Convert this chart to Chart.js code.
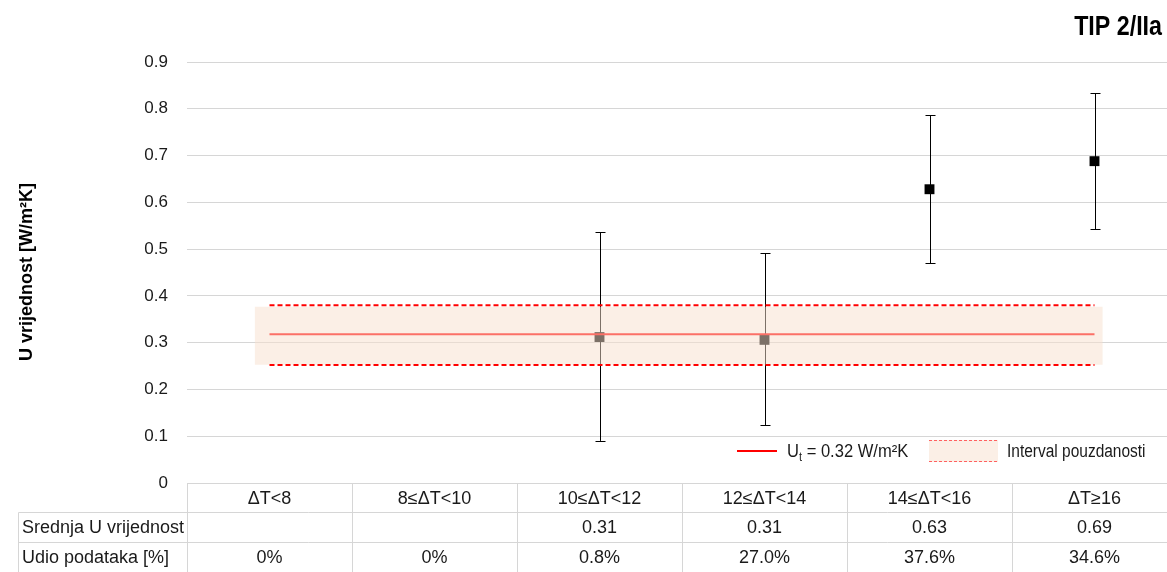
<!DOCTYPE html>
<html><head><meta charset="utf-8">
<script src="https://cdn.jsdelivr.net/npm/chart.js@4/dist/chart.umd.min.js"></script>
<style>
html,body{margin:0;padding:0;overflow:hidden;background:#fff;width:1167px;height:572px}
#wrap{width:1190px;height:572px;position:relative}
</style></head><body>
<div id="wrap"><canvas id="c" width="1190" height="572"></canvas></div>
<script>
// ---- data ----
const categories = ['ΔT<8', '8≤ΔT<10', '10≤ΔT<12', '12≤ΔT<14', '14≤ΔT<16', 'ΔT≥16'];
const meanU  = [null, null, 0.312, 0.306, 0.628, 0.688];
const lowerU = [null, null, 0.090, 0.124, 0.470, 0.543];
const upperU = [null, null, 0.536, 0.491, 0.786, 0.833];
const meanLabels  = ['', '', '0.31', '0.31', '0.63', '0.69'];
const shareLabels = ['0%', '0%', '0.8%', '27.0%', '37.6%', '34.6%'];
const rowLabels = ['Srednja U vrijednost', 'Udio podataka [%]'];
const yTickValues = [0, 0.1, 0.2, 0.3, 0.4, 0.5, 0.6, 0.7, 0.8, 0.9];
const targetU = 0.318;
const ciHigh = 0.380, ciLow = 0.252;
const bandHigh = 0.377, bandLow = 0.253;
const titleText = 'TIP 2/IIa';
const yTitle = 'U vrijednost [W/m²K]';
const legendTarget = ['U', 't', ' = 0.32 W/m²K'];
const legendBand = 'Interval pouzdanosti';

// ---- helpers ----
const N = categories.length;
const xc = i => i + 0.5;
const lineFirst = xc(0), lineLast = xc(N - 1);
const bandFirst = 0.41, bandLast = 5.55;
const FONT = '"Liberation Sans", Arial, sans-serif';
const GRID = '#d6d6d6';
const TXT = '#1a1a1a';

const markerData = [];
meanU.forEach((v, i) => { if (v !== null) markerData.push({x: xc(i), y: v}); });
const hline = v => [{x: lineFirst, y: v}, {x: lineLast, y: v}];

const errorBars = {
  id: 'errorBars',
  beforeDatasetsDraw(chart) {
    const {ctx, scales: {x, y}} = chart;
    ctx.save();
    ctx.strokeStyle = '#000';
    ctx.lineWidth = 1;
    meanU.forEach((v, i) => {
      if (v === null) return;
      const px = Math.round(x.getPixelForValue(xc(i))) + 0.5;
      const yl = y.getPixelForValue(lowerU[i]);
      const yu = y.getPixelForValue(upperU[i]);
      ctx.beginPath();
      ctx.moveTo(px, yu); ctx.lineTo(px, yl);
      ctx.moveTo(px - 5, Math.round(yu) + 0.5); ctx.lineTo(px + 5, Math.round(yu) + 0.5);
      ctx.moveTo(px - 5, Math.round(yl) + 0.5); ctx.lineTo(px + 5, Math.round(yl) + 0.5);
      ctx.stroke();
    });
    ctx.restore();
  }
};

function condensedText(ctx, text, x, y, sx) {
  ctx.save();
  ctx.translate(x, y);
  ctx.scale(sx, 1);
  ctx.fillText(text, 0, 0);
  ctx.restore();
  return ctx.measureText(text).width * sx;
}

const decorations = {
  id: 'decorations',
  afterDraw(chart) {
    const {ctx, scales: {x, y}} = chart;
    ctx.save();
    // ---- data table ----
    const top = Math.round(y.getPixelForValue(0)) + 0.5;
    const rows = [top, top + 29, top + 59, top + 89];
    const tableLeft = 18.5;
    const colX = [];
    for (let i = 0; i <= N; i++) colX.push(Math.round(x.getPixelForValue(i)) + 0.5);
    ctx.strokeStyle = GRID;
    ctx.lineWidth = 1;
    ctx.beginPath();
    ctx.moveTo(colX[0], rows[0]); ctx.lineTo(colX[N], rows[0]);
    for (let r = 1; r < rows.length; r++) { ctx.moveTo(tableLeft, rows[r]); ctx.lineTo(colX[N], rows[r]); }
    ctx.moveTo(tableLeft, rows[1]); ctx.lineTo(tableLeft, rows[3]);
    colX.forEach(cx => { ctx.moveTo(cx, rows[0]); ctx.lineTo(cx, rows[3]); });
    ctx.stroke();

    ctx.fillStyle = TXT;
    ctx.font = '18px ' + FONT;
    ctx.textBaseline = 'middle';
    ctx.textAlign = 'center';
    categories.forEach((c, i) => {
      const cx = x.getPixelForValue(xc(i));
      ctx.fillText(c, cx, (rows[0] + rows[1]) / 2 + 1);
      ctx.fillText(meanLabels[i], cx, (rows[1] + rows[2]) / 2 + 1);
      ctx.fillText(shareLabels[i], cx, (rows[2] + rows[3]) / 2 + 1);
    });
    ctx.textAlign = 'left';
    ctx.fillText(rowLabels[0], 22, (rows[1] + rows[2]) / 2 + 1);
    ctx.fillText(rowLabels[1], 22, (rows[2] + rows[3]) / 2 + 1);

    // ---- title ----
    ctx.font = 'bold 28px ' + FONT;
    ctx.textAlign = 'right';
    ctx.textBaseline = 'alphabetic';
    ctx.fillStyle = '#000';
    condensedText(ctx, titleText, 1162, 35, 0.83);

    // ---- y axis title ----
    ctx.save();
    ctx.translate(27, 272);
    ctx.rotate(-Math.PI / 2);
    ctx.font = 'bold 18px ' + FONT;
    ctx.textAlign = 'center';
    ctx.textBaseline = 'middle';
    ctx.fillText(yTitle, 0, 0);
    ctx.restore();

    // ---- legend ----
    const ly = 450;
    ctx.strokeStyle = '#ff0000';
    ctx.lineWidth = 2;
    ctx.beginPath(); ctx.moveTo(737, ly + 1); ctx.lineTo(777, ly + 1); ctx.stroke();
    ctx.fillStyle = TXT;
    ctx.textAlign = 'left';
    ctx.textBaseline = 'alphabetic';
    let lx = 787;
    ctx.font = '18px ' + FONT;
    lx += condensedText(ctx, legendTarget[0], lx, ly + 7, 0.92);
    ctx.font = '12px ' + FONT;
    lx += condensedText(ctx, legendTarget[1], lx, ly + 11, 0.92);
    ctx.font = '18px ' + FONT;
    condensedText(ctx, legendTarget[2], lx, ly + 7, 0.92);
    // band swatch
    ctx.fillStyle = 'rgba(248,224,206,0.5)';
    ctx.fillRect(929, 440, 69, 22);
    ctx.strokeStyle = '#ff6060';
    ctx.lineWidth = 1;
    ctx.setLineDash([3, 2]);
    ctx.beginPath();
    ctx.moveTo(929, 440.5); ctx.lineTo(998, 440.5);
    ctx.moveTo(929, 461.5); ctx.lineTo(998, 461.5);
    ctx.stroke();
    ctx.setLineDash([]);
    ctx.fillStyle = TXT;
    ctx.font = '18px ' + FONT;
    condensedText(ctx, legendBand, 1007, ly + 7, 0.86);
    ctx.restore();
  }
};

new Chart(document.getElementById('c'), {
  type: 'scatter',
  data: {
    datasets: [
      { label: 'mean', data: markerData, order: 5, pointStyle: 'rect', pointRadius: 7, pointHoverRadius: 7,
        backgroundColor: '#000', borderColor: '#000', borderWidth: 0, showLine: false },
      { label: 'target', data: hline(targetU), order: 4, showLine: true, borderColor: '#ff0000', borderWidth: 2,
        pointRadius: 0, fill: false },
      { label: 'band', data: [{x: bandFirst, y: bandHigh}, {x: bandLast, y: bandHigh}], order: 3, showLine: true,
        borderWidth: 0, borderColor: 'rgba(0,0,0,0)', pointRadius: 0,
        fill: {value: bandLow}, backgroundColor: 'rgba(248,224,206,0.5)' },
      { label: 'ciHigh', data: hline(ciHigh), order: 2, showLine: true, borderColor: '#ff0000', borderWidth: 2,
        borderDash: [5, 3], pointRadius: 0, fill: false },
      { label: 'ciLow', data: hline(ciLow), order: 1, showLine: true, borderColor: '#ff0000', borderWidth: 2,
        borderDash: [5, 3], pointRadius: 0, fill: false }
    ]
  },
  options: {
    responsive: false,
    animation: false,
    events: [],
    layout: { padding: { left: 0, right: 13, top: 62, bottom: 89 } },
    plugins: { legend: { display: false }, tooltip: { enabled: false }, title: { display: false } },
    scales: {
      x: { type: 'linear', min: 0, max: N, display: false },
      y: {
        min: 0, max: 0.9,
        afterFit(s) { s.width = 187; },
        afterBuildTicks(s) { s.ticks = yTickValues.map(v => ({value: v})); },
        border: { display: false },
        grid: { color: GRID, lineWidth: 1, drawTicks: false },
        ticks: {
          padding: 19, color: TXT, font: { family: FONT, size: 17 },
          callback: v => v === 0 ? '0' : v.toFixed(1)
        }
      }
    }
  },
  plugins: [errorBars, decorations]
});
</script>
</body></html>
